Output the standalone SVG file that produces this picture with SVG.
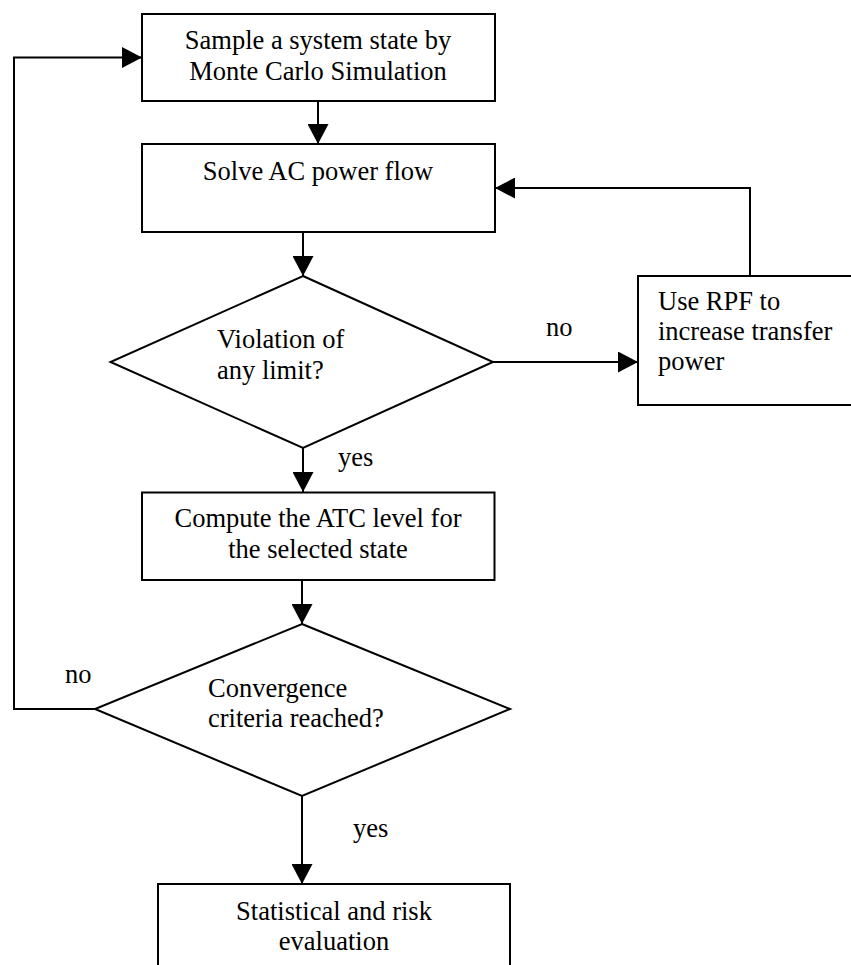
<svg xmlns="http://www.w3.org/2000/svg" width="851" height="965" viewBox="0 0 851 965">
<style>
.box{fill:#fff;stroke:#000;stroke-width:2}
.conn{fill:none;stroke:#000;stroke-width:2}
text{font-family:"Liberation Serif","Times New Roman",serif;font-size:26.5px;fill:#000}
.c{text-anchor:middle}
</style>
<defs>
<marker id="arr" viewBox="0 0 20 21" markerWidth="20" markerHeight="21" refX="20" refY="10.5" orient="auto" markerUnits="userSpaceOnUse">
<path d="M0,0 L20,10.5 L0,21 z" fill="#000"/>
</marker>
</defs>
<rect width="851" height="965" fill="#fff"/>
<g id="connectors">
<path class="conn" d="M318,101 V144" marker-end="url(#arr)"/>
<path class="conn" d="M303,232 V276" marker-end="url(#arr)"/>
<path class="conn" d="M493,362 H638" marker-end="url(#arr)"/>
<path class="conn" d="M750,276 V188 H495" marker-end="url(#arr)"/>
<path class="conn" d="M303,448 V492" marker-end="url(#arr)"/>
<path class="conn" d="M302,580 V624" marker-end="url(#arr)"/>
<path class="conn" d="M95,709 H14 V57.5 H142" marker-end="url(#arr)"/>
<path class="conn" d="M302,796 V884" marker-end="url(#arr)"/>
<text x="546" y="336">no</text>
<text x="338" y="466">yes</text>
<text x="65" y="683">no</text>
<text x="353" y="837">yes</text>
</g>
<g id="sample">
<rect class="box" x="142" y="14" width="353" height="87"/>
<text class="c" x="318" y="49">Sample a system state by</text>
<text class="c" x="318" y="80">Monte Carlo Simulation</text>
</g>
<g id="solve">
<rect class="box" x="142" y="144" width="353" height="88"/>
<text class="c" x="318" y="180">Solve AC power flow</text>
</g>
<g id="violation">
<polygon class="box" points="303,276 493,362 303,448 110.5,362"/>
<text x="217" y="348">Violation of</text>
<text x="217" y="379">any limit?</text>
</g>
<g id="rpf">
<rect class="box" x="638" y="276" width="222" height="129"/>
<text x="658" y="310">Use RPF to</text>
<text x="658" y="340">increase transfer</text>
<text x="658" y="370">power</text>
</g>
<g id="compute">
<rect class="box" x="142" y="492.5" width="352.5" height="87.5"/>
<text class="c" x="318" y="527">Compute the ATC level for</text>
<text class="c" x="318" y="558">the selected state</text>
</g>
<g id="convergence">
<polygon class="box" points="302,624 510,709 302,796 95,709"/>
<text x="208" y="697">Convergence</text>
<text x="208" y="727">criteria reached?</text>
</g>
<g id="statistical">
<rect class="box" x="158" y="884" width="352" height="120"/>
<text class="c" x="334" y="920">Statistical and risk</text>
<text class="c" x="334" y="950">evaluation</text>
</g>
</svg>
